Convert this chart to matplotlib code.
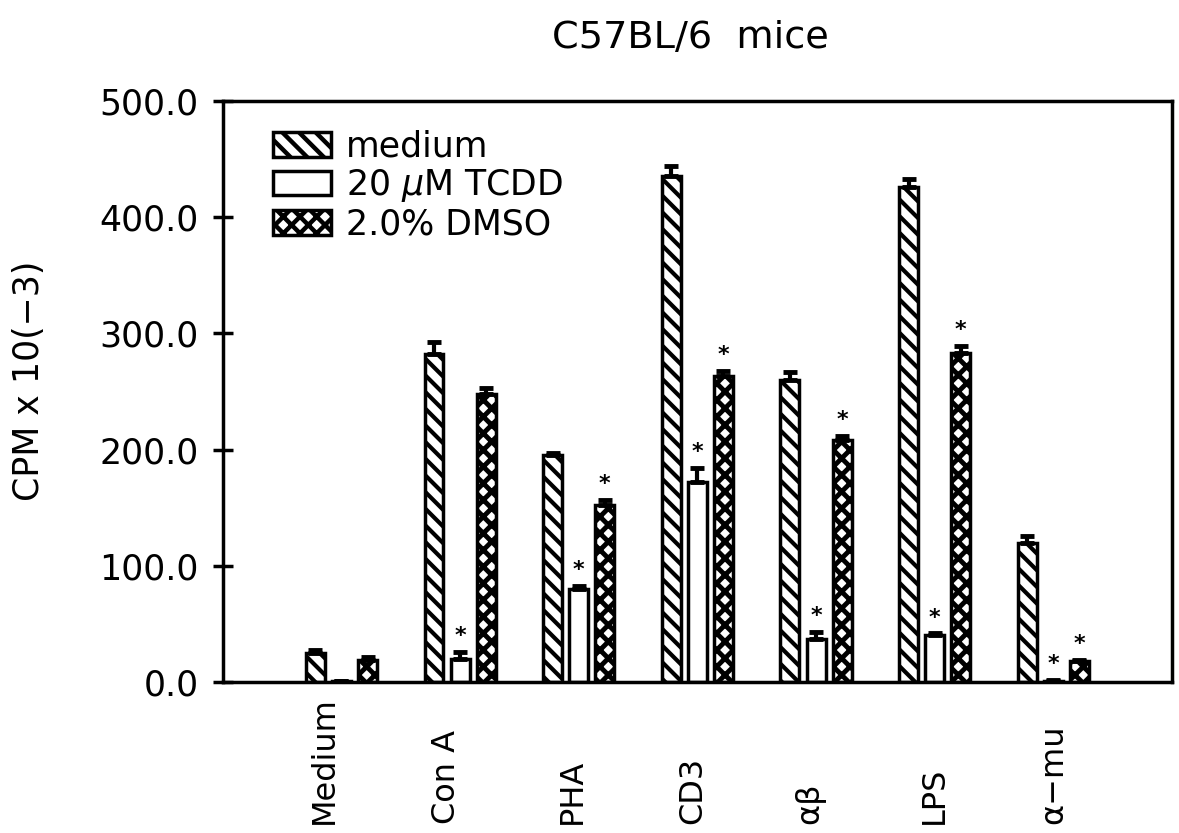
import numpy as np
import matplotlib
matplotlib.use("Agg")
import matplotlib.pyplot as plt
from matplotlib.patches import Patch

categories = ["Medium", "Con A", "PHA", "CD3", "αβ", "LPS", "α−mu"]
series_names = ["medium", "20 $\\mu$M TCDD", "2.0% DMSO"]
medium_vals = [25, 282, 195, 435, 260, 426, 120]
medium_err = [3, 11, 2, 9, 7, 7, 6]
tcdd_vals = [1, 20, 80, 172, 37, 41, 1]
tcdd_err = [0, 6, 3, 12, 6, 1, 1]
dmso_vals = [19, 248, 152, 263, 208, 283, 18]
dmso_err = [3, 5, 5, 5, 4, 6, 1]
tcdd_star = [False, True, True, True, True, True, True]
dmso_star = [False, False, True, True, True, True, True]
yticks = [0, 100, 200, 300, 400, 500]

# layout: category labels in the original are hand-placed, slightly left of group centres
label_shift = [-0.14, -0.115, -0.055, -0.04, -0.05, 0.0, 0.0]

plt.rcParams['font.family'] = ['DejaVu Sans']
plt.rcParams['hatch.linewidth'] = 3.0

fig = plt.figure(figsize=(11.79, 8.33), dpi=100)
ax = fig.add_axes([0.189, 0.181, 0.805, 0.698])

x = np.arange(len(categories))
w = 0.16
off = 0.22
hatches = ["\\\\", "", "xx"]
hatch_lw = [3.0, 3.0, 3.5]
vals = [medium_vals, tcdd_vals, dmso_vals]
errs = [medium_err, tcdd_err, dmso_err]
stars = [None, tcdd_star, dmso_star]

for i, (v, e, h) in enumerate(zip(vals, errs, hatches)):
    pos = x + (i - 1) * off
    with plt.rc_context({'hatch.linewidth': hatch_lw[i]}):
        ax.bar(pos, v, width=w, facecolor='white', edgecolor='black',
               linewidth=2.5, hatch=h, zorder=2)
    ax.errorbar(pos, v, yerr=[np.zeros(len(e)), e], fmt='none',
                ecolor='black', elinewidth=3, capsize=5, capthick=3.5, zorder=3)
    if stars[i] is not None:
        for p, val, err, s in zip(pos, v, e, stars[i]):
            if s:
                ax.text(p, val + err + 5, "*", ha='center', va='bottom',
                        fontsize=16, fontweight='bold')

ax.set_xlim(-1, 7)
ax.set_ylim(0, 500)
ax.set_yticks(yticks)
ax.set_yticklabels([f"{t:.1f}" for t in yticks], fontsize=25)
ax.tick_params(axis='y', direction='inout', length=15, width=2.5, pad=10)
ax.set_xticks([])
for xi, sh, lab in zip(x, label_shift, categories):
    ax.text(xi + sh, -0.243, lab, transform=ax.get_xaxis_transform(),
            rotation=90, ha='center', va='bottom', fontsize=23)
for sp in ax.spines.values():
    sp.set_linewidth(2.5)

ax.set_ylabel("CPM x 10(−3)", fontsize=25, labelpad=38)
ax.yaxis.label.set_y(0.518)
ax.set_title("C57BL/6  mice", fontsize=27.5, pad=38, x=0.4926)

with plt.rc_context({'hatch.linewidth': 3.2}):
    handles = [Patch(facecolor='white', edgecolor='black', linewidth=2.5, hatch=h)
               for h in hatches]
    leg = ax.legend(handles, series_names, loc='upper left', frameon=False,
                    fontsize=25, handlelength=1.67, handleheight=0.7,
                    handletextpad=0.43, labelspacing=0.1,
                    bbox_to_anchor=(0.020, 1.004))

fig.savefig("out.png", dpi=100)
